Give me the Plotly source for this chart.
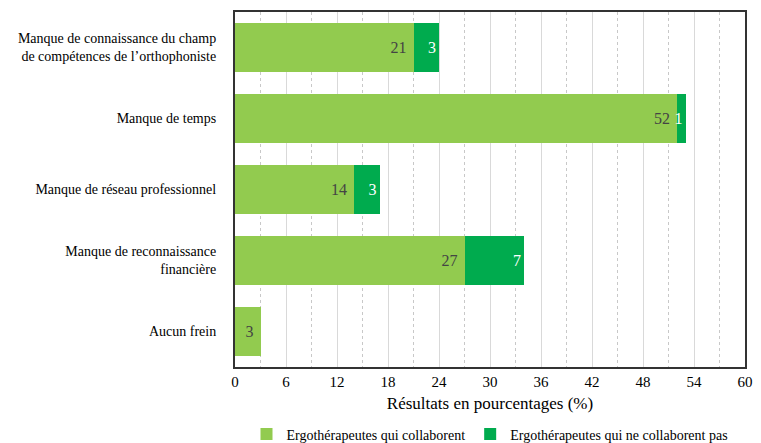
import plotly.graph_objects as go

categories = [
    "Manque de connaissance du champ<br>de compétences de l’orthophoniste",
    "Manque de temps",
    "Manque de réseau professionnel",
    "Manque de reconnaissance<br>financière",
    "Aucun frein",
]
collaborent = [21, 52, 14, 27, 3]
ne_collaborent_pas = [3, 1, 3, 7, 0]
x_ticks = list(range(0, 61, 6))

fig = go.Figure()
fig.add_trace(go.Bar(
    y=categories, x=collaborent, orientation="h",
    name="Ergothérapeutes qui collaborent",
    marker=dict(color="#92CB4F", line=dict(width=0)),
    text=collaborent, texttemplate="%{x}\u00a0", textposition="inside",
    insidetextanchor="end", textfont=dict(size=16),
))
fig.add_trace(go.Bar(
    y=categories, x=ne_collaborent_pas, orientation="h",
    name="Ergothérapeutes qui ne collaborent pas",
    marker=dict(color="#00AB4E", line=dict(width=0)),
    text=[str(v) if v else "" for v in ne_collaborent_pas], textposition="inside",
    insidetextanchor="end", textfont=dict(size=16),
))

fig.update_layout(
    barmode="stack",
    bargap=0.3,
    width=761, height=443,
    margin=dict(l=235, r=16, t=12, b=76, autoexpand=False),
    plot_bgcolor="white", paper_bgcolor="white",
    font=dict(family="Times", size=14, color="#000000"),
    uniformtext=dict(minsize=16, mode="show"),
    legend=dict(orientation="h", x=0.5, xanchor="center", y=-0.19, yanchor="middle",
                traceorder="normal"),
    showlegend=True,
)
fig.update_xaxes(
    range=[0, 60], tickvals=x_ticks, ticks="", showline=True, linecolor="#333",
    linewidth=2, mirror=True, showgrid=True, gridcolor="#d9d9d9", gridwidth=1,
    minor=dict(dtick=3, showgrid=True, gridcolor="#c8c8c8", griddash="dot", gridwidth=1),
    tickfont=dict(size=15), zeroline=False,
    title=dict(text="Résultats en pourcentages (%)", standoff=8),
)
fig.update_yaxes(
    autorange="reversed", showline=True, linecolor="#333", linewidth=2, mirror=True,
    ticks="outside", ticklen=14, tickcolor="rgba(0,0,0,0)",
)

fig.write_html("out.html")
